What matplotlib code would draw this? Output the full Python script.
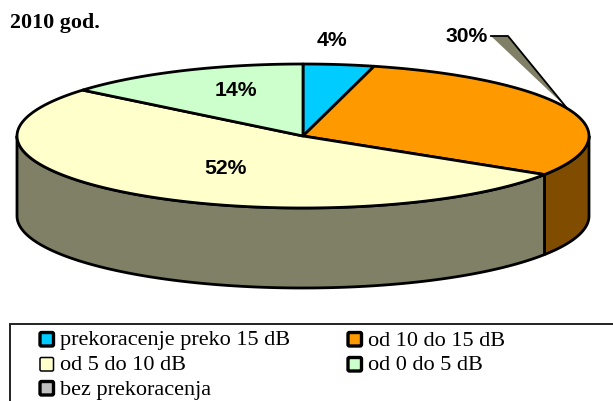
import numpy as np
from matplotlib import pyplot as plt
from matplotlib.patches import Polygon, Rectangle, FancyBboxPatch

title = "2010 god."
values = [4, 30, 52, 14]
value_labels = ["4%", "30%", "52%", "14%"]
legend_labels = ["prekoracenje preko 15 dB", "od 10 do 15 dB", "od 5 do 10 dB", "od 0 do 5 dB", "bez prekoracenja"]

top_colors = ["#00CCFF", "#FF9900", "#FFFFCC", "#CCFFCC"]
side_colors = ["#006680", "#804D00", "#808066", "#668066"]
other_color = "#C0C0C0"
leader_color = "#808066"

CX, CY, RX, RY, DEPTH = 303, 136, 286, 72, 80
LW = 2.0


def ellipse(t_deg, y_off=0):
  # t is measured clockwise from the top of the pie
  t = np.radians(t_deg)
  return np.column_stack([CX + RX * np.sin(t), CY - RY * np.cos(t) + y_off])


def main():
  fig = plt.figure(figsize=(6.13, 4.01), dpi=100)
  ax = fig.add_axes([0, 0, 1, 1])
  ax.set_xlim(0, 613)
  ax.set_ylim(401, 0)
  ax.axis("off")

  edges = np.concatenate([[0], np.cumsum(values) / np.sum(values) * 360])

  ###################
  ## Side of the pie (only the front half shows)
  ###################
  for i in range(len(values)):
    a = max(edges[i], 90)
    b = min(edges[i + 1], 270)
    if a >= b:
      continue
    ts = np.linspace(a, b, 100)
    pts = np.vstack([ellipse(ts), ellipse(ts[::-1], DEPTH)])
    ax.add_patch(Polygon(pts, closed=True, facecolor=side_colors[i], edgecolor="black", lw=LW, joinstyle="round"))

  ###################
  ## Top of the pie
  ###################
  for i in range(len(values)):
    ts = np.linspace(edges[i], edges[i + 1], 120)
    pts = np.vstack([[CX, CY], ellipse(ts)])
    ax.add_patch(Polygon(pts, closed=True, facecolor=top_colors[i], edgecolor="black", lw=LW, joinstyle="round"))

  ###################
  ## Leader of the 30% label
  ###################
  ax.add_patch(Polygon([(491, 36), (508, 36), (566, 107)], closed=True, facecolor=leader_color, edgecolor="none"))
  ax.plot([491, 508, 566], [36, 36, 107], color="black", lw=1.3)

  ###################
  ## Labels
  ###################
  sans = {"family": "Liberation Sans", "weight": "bold", "fontsize": 15.2, "color": "black", "ha": "center", "va": "center"}
  label_pos = [(332, 40), (467, 37), (225, 168), (236, 91)]
  for text, (x, y) in zip(value_labels, label_pos):
    ax.text(x, y, text, **sans)
  ax.text(10, 23, title, family="Liberation Serif", weight="bold", fontsize=15.8, ha="left", va="center")

  ###################
  ## Legend
  ###################
  ax.add_patch(Rectangle((10, 324), 640, 100, facecolor="white", edgecolor="#222222", lw=1.4))
  colors = top_colors + [other_color]
  slots = [(40, 339), (348, 339), (40, 364), (348, 364), (40, 388)]
  edge_widths = [2.4, 2.4, 1.1, 2.4, 2.4]
  for label, color, width, (x, y) in zip(legend_labels, colors, edge_widths, slots):
    ax.add_patch(FancyBboxPatch((x, y - 6.5), 13.5, 13.5, boxstyle="round,pad=0,rounding_size=1.5",
                                facecolor=color, edgecolor="black", lw=width))
    ax.text(x + 20, y + 2, label, family="Liberation Serif", fontsize=16, ha="left", va="center")

  fig.savefig("out.png", dpi=100)
  plt.close(fig)


if __name__ == "__main__":
  main()
